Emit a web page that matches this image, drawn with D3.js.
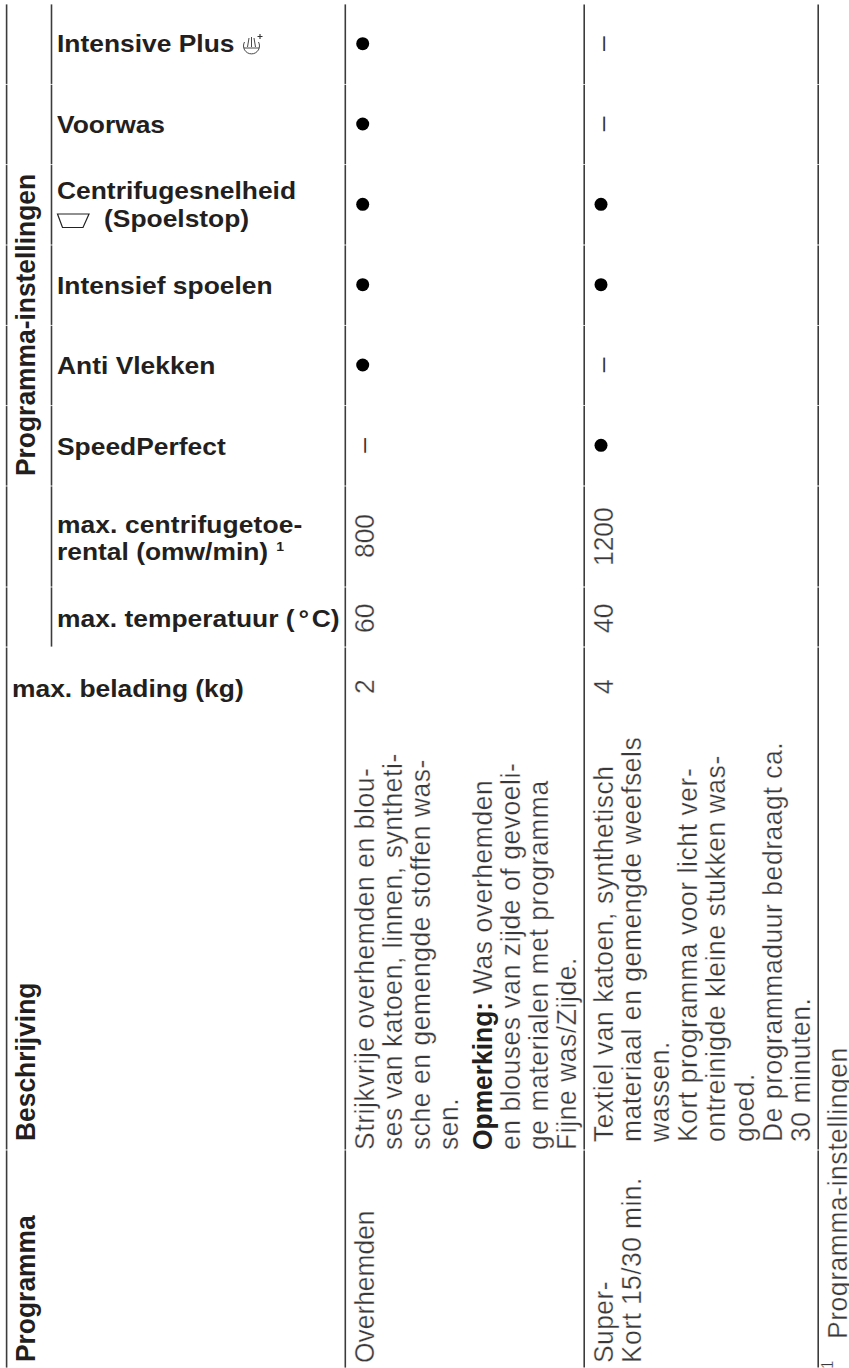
<!DOCTYPE html>
<html>
<head>
<meta charset="utf-8">
<script src="https://cdn.jsdelivr.net/npm/d3@7"></script>
<style>
  html, body { margin: 0; padding: 0; background: #fff; }
  svg { display: block; }
  text { font-family: "Liberation Sans", sans-serif; fill: #231f20; }
  .bold { font-weight: bold; font-size: 26.4px; }
  .body { font-size: 26.4px; letter-spacing: 0.6px; fill: #3a3839; stroke: #fff; stroke-width: 0.3px; }
  .dash { font-size: 26.4px; fill: #333; }
</style>
</head>
<body>
<div id="chartContainer"></div>
<script>
var width  = 849,
    height = 1368;

// table content
var settings = ['Intensive Plus', 'Voorwas', 'Centrifugesnelheid', 'Intensief spoelen', 'Anti Vlekken', 'SpeedPerfect'];
var overhemdenSettings = [1, 1, 1, 1, 1, 0];
var superKortSettings  = [0, 0, 1, 1, 0, 1];
var limits = ['max. centrifugetoerental', 'max. temperatuur', 'max. belading'];
var overhemdenLimits = ['800', '60', '2'];
var superKortLimits  = ['1200', '40', '4'];
var programmes = ['Overhemden', 'Super-', 'Kort 15/30 min.'];
var headers = ['Programma', 'Beschrijving'];
var overhemdenText = ['Strijkvrije overhemden en blou-', 'ses van katoen, linnen, syntheti-', 'sche en gemengde stoffen was-', 'sen.'];
var overhemdenNote = ['en blouses van zijde of gevoeli-', 'ge materialen met programma', 'Fijne was/Zijde.'];
var superKortText = ['Textiel van katoen, synthetisch', 'materiaal en gemengde weefsels', 'wassen.', 'Kort programma voor licht ver-', 'ontreinigde kleine stukken was-', 'goed.', 'De programmaduur bedraagt ca.', '30 minuten.'];

var svg = d3.select('#chartContainer').append('svg')
    .attr('width', width)
    .attr('height', height);

// rows run down the page, columns across it
var rowY = d3.scaleBand().domain(settings).range([4, 486]);
var limitY = d3.scaleOrdinal().domain(limits).range([558, 633, 694]);
var limitY2 = d3.scaleOrdinal().domain(limits).range([566, 633, 694]);
var valueX = d3.scaleOrdinal().domain(['overhemden', 'superKort']).range([362.7, 601]);
var lineX = d3.scaleLinear().domain([0, 1]).range([374.3, 402.3]);
var lineX2 = d3.scaleLinear().domain([0, 1]).range([613, 641.1]);

// grid lines, broken where the original row borders cross them
var rowEdges = settings.map(function(s) { return rowY(s); })
    .concat([486, 587, 647, 1150, 1368]);
var gridX = [6.6, 51.5, 345.3, 584.2, 818.2];
gridX.forEach(function(x, c) {
    d3.pairs(rowEdges).forEach(function(p) {
        if (c === 1 && p[0] >= 647) return;
        svg.append('line')
            .attr('x1', x).attr('x2', x)
            .attr('y1', p[0] + 0.4).attr('y2', p[1] - 0.4)
            .style('stroke', '#3c3c3c')
            .style('stroke-width', 1.6);
    });
});

// the scan is a little wider than tall, so type is squeezed across its height
function upright(str, x, y) {
    return svg.append('text')
        .attr('class', 'bold')
        .attr('transform', 'translate(' + x + ',' + y + ') scale(1,0.92)')
        .text(str);
}

function turned(str, x, y, cls) {
    return svg.append('text')
        .attr('class', cls || 'body')
        .attr('transform', 'translate(' + x + ',' + y + ') rotate(-90) scale(1,1.07)')
        .text(str);
}

// left column labels
upright('Intensive Plus', 57, 52);
upright('Voorwas', 57, 133);
upright('Centrifugesnelheid', 57, 199);
upright('(Spoelstop)', 104, 227);
upright('Intensief spoelen', 57, 294);
upright('Anti Vlekken', 57, 374);
upright('SpeedPerfect', 57, 455);
upright('max. centrifugetoe-', 57, 533).style('letter-spacing', '0.1px');
var rental = upright('rental (omw/min)', 57, 560);
rental.append('tspan').attr('dx', 8).attr('dy', -10).style('font-size', '14px').text('1');
var temp = upright('max. temperatuur (', 57, 627);
temp.append('tspan').attr('dx', 4).text('°');
temp.append('tspan').attr('dx', 2.5).text('C)');
upright('max. belading (kg)', 12, 697);
turned('Programma-instellingen', 35, 476, 'bold');

// wash symbol next to Intensive Plus
var wash = svg.append('g').attr('transform', 'translate(243,36)')
    .style('fill', 'none').style('stroke', '#333').style('stroke-width', 0.9);
wash.append('path').attr('d', 'M1.5,6 A8,8 0 1 0 15.5,6 M1,12 L16,12');
wash.append('path').attr('d', 'M6,2 L4.5,11 M8.5,1 L8.5,11 M11,2 L12.5,11');
wash.append('path').attr('d', 'M17,-2 L17,3 M14.5,0.5 L19.5,0.5').style('stroke-width', 1.1);

// tub symbol for the rinse stop
svg.append('path')
    .attr('d', 'M57.5,214 L89,214 L83,227.5 L62.5,227.5 Z')
    .style('fill', 'none').style('stroke', '#222').style('stroke-width', 1.2);

// settings marks, a dot when available, a dash when not
function marks(values, column) {
    var x = valueX(column);
    settings.forEach(function(s, i) {
        var y = rowY(s) + rowY.bandwidth() / 2 - 0.5;
        if (values[i]) {
            svg.append('circle').attr('cx', x).attr('cy', y).attr('r', 6.5).style('fill', '#000');
        } else {
            svg.append('text')
                .attr('class', 'dash')
                .attr('transform', 'translate(' + (x + 9.7) + ',' + (y + 7.3) + ') rotate(-90)')
                .text('–');
        }
    });
}
marks(overhemdenSettings, 'overhemden');
marks(superKortSettings, 'superKort');

limits.forEach(function(l, i) {
    turned(overhemdenLimits[i], 374.3, limitY(l)).style('letter-spacing', '0');
    turned(superKortLimits[i], 613, limitY2(l)).style('letter-spacing', '0');
});

// headers and descriptions, all turned a quarter
turned(headers[0], 35, 1362, 'bold');
turned(headers[1], 35, 1141, 'bold');
turned(programmes[0], 374.3, 1363).style('letter-spacing', '0');
turned(programmes[1], 613, 1363).style('letter-spacing', '0.45px');
turned(programmes[2], 641, 1363).style('letter-spacing', '0.45px');

overhemdenText.forEach(function(t, i) {
    turned(t, lineX(i), 1150);
});
var note = turned('', lineX(4) + 5.4, 1150);
note.append('tspan').attr('class', 'bold')
    .style('letter-spacing', '0').style('stroke', 'none').style('fill', '#231f20')
    .text('Opmerking:');
note.append('tspan').text(' Was overhemden');
overhemdenNote.forEach(function(t, i) {
    turned(t, lineX(i + 5) + 5.4, 1150);
});
superKortText.forEach(function(t, i) {
    turned(t, lineX2(i), 1142);
});

// footnote
turned('1', 833, 1369).style('font-size', '15px');
turned('Programma-instellingen', 846.5, 1339);
</script>
</body>
</html>
